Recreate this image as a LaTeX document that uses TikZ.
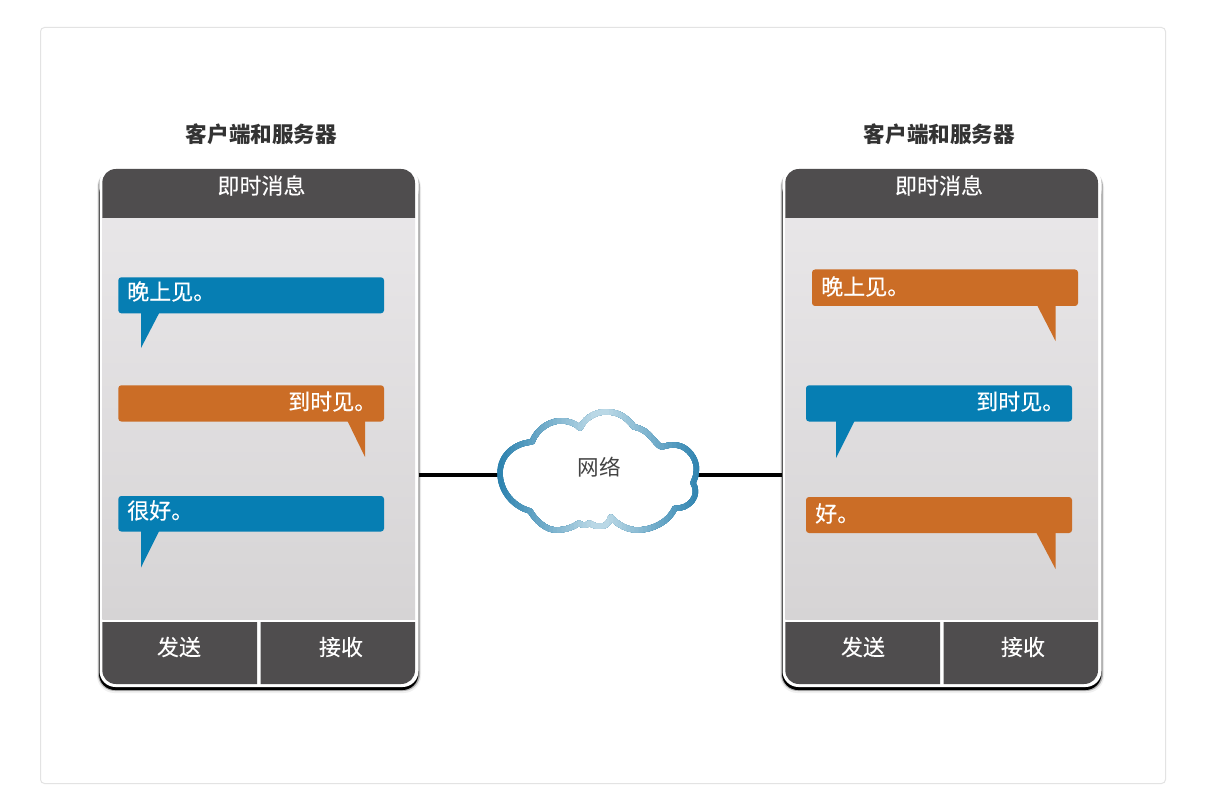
\documentclass[tikz,border=0pt]{standalone}
\usepackage{fontspec}
\setmainfont{Noto Sans CJK SC}
\newfontfamily\medfont[FakeBold=0.25]{Noto Sans CJK SC}
\definecolor{cardline}{HTML}{E3E3E3}
\definecolor{panel}{HTML}{4F4D4E}
\definecolor{bodytop}{HTML}{E8E6E8}
\definecolor{bodybot}{HTML}{D6D4D5}
\definecolor{msgblue}{HTML}{067EB3}
\definecolor{msgorange}{HTML}{CB6D26}
\definecolor{clouddark}{HTML}{227CAB}
\definecolor{cloudlight}{HTML}{BAD8E6}
\definecolor{titletext}{HTML}{333333}
\definecolor{cloudtext}{HTML}{444444}
\tikzset{
  titlelabel/.style={font=\fontsize{16.2}{18}\selectfont\bfseries,text=titletext,inner sep=0pt},
  whitelabel/.style={font=\fontsize{16.5}{18}\selectfont\medfont,text=white,inner sep=0pt},
  msgbox/.style={fill=#1,rounded corners=2.25pt},
  msgtail/.style={fill=#1},
  link/.style={line width=2.6pt,black},
  panelfill/.style={fill=panel}
}
\newcommand{\cloudshape}{(500,473)
  .. controls (500,455) and (515,443) .. (532,442)
  .. controls (537,428) and (552,419) .. (565,421)
  .. controls (572,422) and (577,425) .. (580,428)
  .. controls (586,416) and (598,411) .. (608,412)
  .. controls (620,412) and (628,419) .. (634,427)
  .. controls (642,428) and (648,433) .. (652,438)
  .. controls (656,442) and (658,446) .. (662,447)
  .. controls (670,444) and (680,444) .. (686,449)
  .. controls (693,454) and (698,464) .. (696,473)
  .. controls (696,477) and (694,480) .. (693,483)
  .. controls (697,489) and (696,496) .. (692,501)
  .. controls (688,506) and (681,509) .. (675,508)
  .. controls (669,522) and (652,530) .. (638,530)
  .. controls (626,530) and (617,524) .. (611,517)
  .. controls (609,520) and (609,526) .. (601,526)
  .. controls (596,527) and (593,525) .. (589,523)
  .. controls (586,526) and (583,526) .. (579,523)
  .. controls (572,528) and (564,530) .. (556,530)
  .. controls (546,530) and (536,521) .. (530,511)
  .. controls (512,506) and (500,490) .. (500,473) -- cycle}
\newcommand{\phonebody}[1]{%
  \begin{scope}[shift={(#1,0)}]
    \fill[black!6,rounded corners=13pt] (97,170) rectangle (421,693);
    \fill[black!30,rounded corners=12.5pt] (98,170) rectangle (420,691);
    \fill[black,rounded corners=12pt] (99,178) rectangle (418.5,690);
    \fill[white,rounded corners=12pt] (99.5,167) rectangle (418.5,687);
    \fill[top color=bodytop,bottom color=bodybot] (102.3,218) rectangle (415,619);
    \fill[panelfill] (102.3,218) -- (102.3,183) .. controls (102.3,175) and (108,169) .. (116,169)
      -- (401,169) .. controls (409,169) and (415,175) .. (415,183) -- (415,218) -- cycle;
    \fill[panelfill] (102.3,622) -- (102.3,670) .. controls (102.3,678) and (108,684) .. (116,684)
      -- (257,684) -- (257,622) -- cycle;
    \fill[panelfill] (260.5,622) -- (260.5,684) -- (401,684) .. controls (409,684) and (415,678) .. (415,670)
      -- (415,622) -- cycle;
  \end{scope}}
\begin{document}
\begin{tikzpicture}[x=0.75pt,y=-0.75pt]
\useasboundingbox (0,0) rectangle (1223,805);
\fill[white] (0,0) rectangle (1223,805);
\draw[cardline,line width=0.75pt,rounded corners=3pt] (40.5,27.5) rectangle (1165.5,783.5);

\phonebody{0}
\phonebody{683}

\coordinate (phoneLport) at (418.5,475);
\coordinate (phoneRport) at (782,475);
\coordinate (cloudW) at (502,475);
\coordinate (cloudE) at (694,475);
\draw[link] (phoneLport) -- (cloudW);
\draw[link] (cloudE) -- (phoneRport);

% cloud with a stroke fading towards its middle
\fill[white] \cloudshape;
\foreach \i in {0,...,24}{
  \pgfmathsetmacro{\hw}{110-\i*4.2}
  \pgfmathsetmacro{\pc}{\i*100/24}
  \begin{scope}
    \clip (600-\hw,390) rectangle (600+\hw,550);
    \draw[cloudlight!\pc!clouddark,line width=4.1pt,line join=round] \cloudshape;
  \end{scope}
}
\node[inner sep=0pt,font=\fontsize{16.2}{18}\selectfont,text=cloudtext] (cloud) at (599.5,467.5) {网络};

% left phone messages
\fill[msgbox=msgblue] (118.3,277.3) rectangle (384,313.3);
\fill[msgtail=msgblue] (141,312) -- (141,348) -- (159.7,312) -- cycle;
\fill[msgbox=msgorange] (118.3,385.3) rectangle (384,421.5);
\fill[msgtail=msgorange] (347,420) -- (365,457) -- (365,420) -- cycle;
\fill[msgbox=msgblue] (118.3,496) rectangle (384,531.5);
\fill[msgtail=msgblue] (141,530) -- (141,567.5) -- (159.7,530) -- cycle;

% right phone messages
\fill[msgbox=msgorange] (812,269.5) rectangle (1078,306);
\fill[msgtail=msgorange] (1037,305) -- (1055.5,341) -- (1055.5,305) -- cycle;
\fill[msgbox=msgblue] (806,385.3) rectangle (1072,421.5);
\fill[msgtail=msgblue] (836,420) -- (836,458) -- (855,420) -- cycle;
\fill[msgbox=msgorange] (806,497) rectangle (1072,533);
\fill[msgtail=msgorange] (1036,532) -- (1055.5,569) -- (1055.5,532) -- cycle;

% texts
\node[titlelabel] (titleL) at (261.5,134) {客户端和服务器};
\node[titlelabel] (titleR) at (939.5,134) {客户端和服务器};
\node[whitelabel] (headL) at (261.5,185.5) {即时消息};
\node[whitelabel] (headR) at (939,185.5) {即时消息};
\node[whitelabel,anchor=west] (m1) at (127,291.5) {晚上见。};
\node[whitelabel,anchor=west] (m2) at (288,401.5) {到时见。};
\node[whitelabel,anchor=west] (m3) at (127,510.5) {很好。};
\node[whitelabel,anchor=west] (m4) at (821,286.5) {晚上见。};
\node[whitelabel,anchor=west] (m5) at (976,401.5) {到时见。};
\node[whitelabel,anchor=west] (m6) at (815,513.5) {好。};
\node[whitelabel] (sendL) at (179,647) {发送};
\node[whitelabel] (recvL) at (341,647) {接收};
\node[whitelabel] (sendR) at (863,647) {发送};
\node[whitelabel] (recvR) at (1023,647) {接收};
\end{tikzpicture}
\end{document}
